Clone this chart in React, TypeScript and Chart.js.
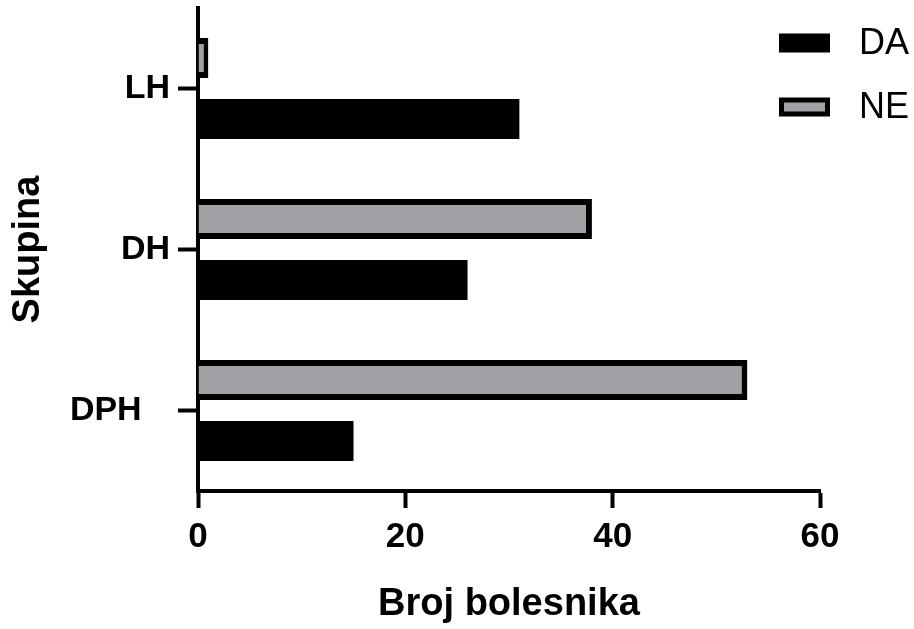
import React, { useEffect, useRef } from "react";
import { Chart, registerables } from "chart.js";

Chart.register(...registerables);

const categories = ["LH", "DH", "DPH   "];
const seriesNames = ["DA", "NE"];
const daValues = [31, 26, 15];
const neValues = [1, 38, 53];
const xTicks = [0, 20, 40, 60];
const xTitle = "Broj bolesnika";
const yTitle = "Skupina";

const FONT = "'Liberation Sans', Arial, sans-serif";
const GRAY = "#a1a1a5";

const legendPlugin = {
  id: "boxLegend",
  afterDraw(chart: any) {
    const ctx = chart.ctx;
    const order = [1, 0];
    const boxX = 779;
    const boxW = 51;
    const boxH = 19;
    const rows = [43, 107];
    ctx.save();
    order.forEach((dsIndex, i) => {
      const ds = chart.data.datasets[dsIndex];
      const cy = rows[i];
      ctx.fillStyle = "#000";
      ctx.fillRect(boxX, cy - boxH / 2, boxW, boxH);
      if (ds.borderWidth) {
        const bw = 5;
        ctx.fillStyle = ds.backgroundColor;
        ctx.fillRect(boxX + bw, cy - boxH / 2 + bw, boxW - 2 * bw, boxH - 2 * bw);
      }
      ctx.fillStyle = "#000";
      ctx.font = `36px ${FONT}`;
      ctx.textBaseline = "middle";
      ctx.textAlign = "left";
      ctx.fillText(ds.label, 859, cy + 1);
    });
    ctx.restore();
  },
};

export default function App() {
  const ref = useRef<HTMLCanvasElement | null>(null);

  useEffect(() => {
    if (!ref.current) return;
    const chart = new Chart(ref.current, {
      type: "bar",
      data: {
        labels: categories,
        datasets: [
          {
            label: seriesNames[1],
            data: neValues,
            backgroundColor: GRAY,
            borderColor: "#000",
            borderWidth: 6,
            borderSkipped: "start",
            categoryPercentage: 0.758,
            barPercentage: 0.656,
          },
          {
            label: seriesNames[0],
            data: daValues,
            backgroundColor: "#000",
            borderColor: "#000",
            borderWidth: 0,
            categoryPercentage: 0.758,
            barPercentage: 0.656,
          },
        ],
      },
      options: {
        indexAxis: "y",
        animation: false,
        responsive: false,
        maintainAspectRatio: false,
        layout: { padding: { top: 8, right: 94, left: 0, bottom: 0 } },
        plugins: {
          legend: { display: false },
          tooltip: { enabled: false },
        },
        scales: {
          x: {
            type: "linear",
            min: 0,
            max: 60,
            afterBuildTicks: (s: any) => {
              s.ticks = xTicks.map((v) => ({ value: v }));
            },
            afterFit: (s: any) => {
              s.height = 138;
            },
            grid: {
              display: true,
              drawOnChartArea: false,
              drawTicks: true,
              tickLength: 17,
              tickWidth: 4,
              tickColor: "#000",
            },
            border: { display: true, width: 4, color: "#000" },
            ticks: {
              color: "#000",
              font: { family: FONT, size: 35, weight: "bold" },
              padding: 8,
              maxRotation: 0,
            },
            title: {
              display: true,
              text: xTitle,
              color: "#000",
              font: { family: FONT, size: 38, weight: "bold" },
              padding: { top: 0, bottom: 2 },
            },
          },
          y: {
            type: "category",
            afterFit: (s: any) => {
              s.width = 198;
              s.paddingTop = 0;
              s.paddingBottom = 0;
            },
            grid: {
              display: true,
              offset: false,
              drawOnChartArea: false,
              drawTicks: true,
              tickLength: 20,
              tickWidth: 4,
              tickColor: "#000",
            },
            border: { display: true, width: 4, color: "#000" },
            ticks: {
              color: "#000",
              font: { family: FONT, size: 34, weight: "bold" },
              padding: 8,
            },
            title: {
              display: true,
              text: yTitle,
              color: "#000",
              font: { family: FONT, size: 38, weight: "bold" },
              padding: { top: 6, bottom: 0 },
            },
          },
        },
      },
      plugins: [legendPlugin],
    });
    return () => chart.destroy();
  }, []);

  return (
    <canvas
      ref={ref}
      width={914}
      height={629}
      style={{ position: "absolute", left: 0, top: 0, display: "block", width: 914, height: 629 }}
    />
  );
}
